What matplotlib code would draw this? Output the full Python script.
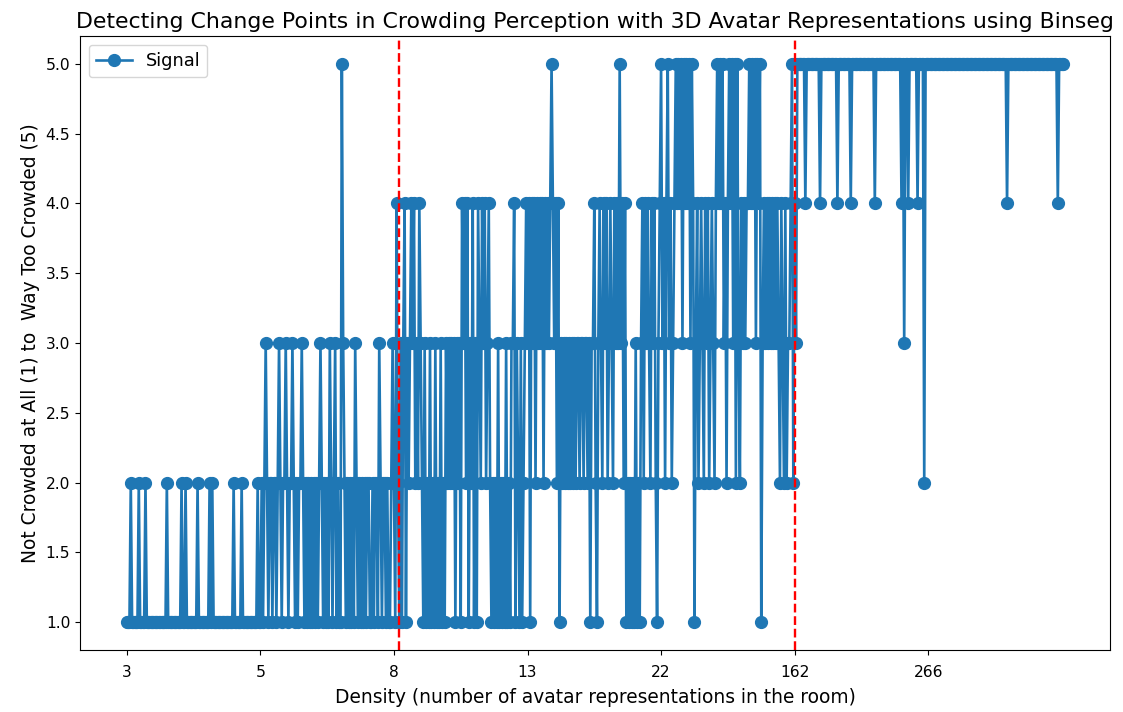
import numpy as np
import matplotlib.pyplot as plt

# crowding ratings (1 = not crowded ... 5 = way too crowded), one digit per trial,
# trials ordered by room density; one string per 100 trials
ratings_000 = ("1112111112" "1111211111" "1111111111" "2111111111" "1211211111"
               "1112111111" "1121211111" "1111111111" "2111112111" "1111111121")
ratings_100 = ("1212321221" "2212321223" "2122321212" "2321212121" "2121232121"
               "2132123121" "1532121212" "1321212121" "2211212213" "2122121123")
ratings_200 = ("2142131341" "3234342324" "3213121312" "1312131213" "2323231323"
               "1434241324" "1314324342" "3421212131" "2121312133" "4132131234")
ratings_300 = ("3414342434" "3424343454" "3424132323" "2323232332" "3323323133"
               "4213432434" "2343243435" "3424121212" "1312134243" "4324342134")
ratings_400 = ("5342453423" "4545453545" "4535413423" "4324342343" "2454545342"
               "4545352532" "4343445454" "5354513434" "3434343432" "4324233452")
ratings_500 = ("4355555545" "5555555554" "5555555555" "5545555555" "5545555555"
               "5555555555" "4555555555" "5555555555" "4535545555" "5545555255")
ratings_600 = ("5555555555" "5555555555" "5555555555" "5555555555" "5555555555"
               "5555555554" "5555555555" "5555555555" "5555555555" "5555555455"
               "55")

# density shown under every 100th trial
tick_pos = [0, 100, 200, 300, 400, 500, 600]
tick_labels = ['3', '5', '8', '13', '22', '162', '266']

# breakpoints found by Binseg
change_points = [204, 500]

signal = np.array([int(c) for c in ratings_000 + ratings_100 + ratings_200 + ratings_300
                   + ratings_400 + ratings_500 + ratings_600])

plt.rcParams['font.size'] = 11.2

fig = plt.figure(figsize=(11.23, 7.12), dpi=100)
ax = fig.add_axes([0.0712, 0.0871, 0.9172, 0.8624])
ax.plot(signal, marker='o', color='#1f77b4', lw=1.9, ms=8.5, label='Signal')
for cp in change_points:
    ax.axvline(cp, color='r', linestyle='--', lw=1.7)

ax.set_xticks(tick_pos)
ax.set_xticklabels(tick_labels)
ax.tick_params(axis='x', pad=7)
ax.set_title('Detecting Change Points in Crowding Perception with 3D Avatar Representations using Binseg',
             fontsize=15.8)
ax.set_xlabel('Density (number of avatar representations in the room)', fontsize=13.4, labelpad=6)
ax.set_ylabel('Not Crowded at All (1) to  Way Too Crowded (5)', fontsize=13.4)
ax.legend(loc='upper left', fontsize=12.8)

fig.savefig('out.png')
